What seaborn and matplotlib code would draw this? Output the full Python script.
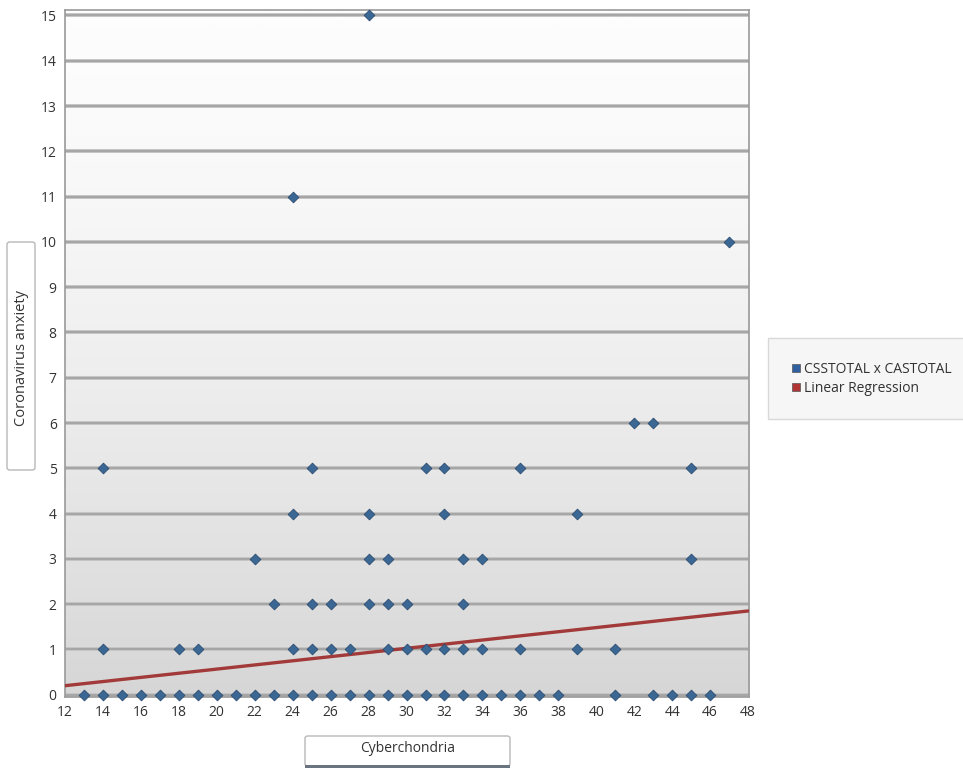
import numpy as np
import pandas as pd
import seaborn as sns
from matplotlib import pyplot as plt
from matplotlib.patches import FancyBboxPatch, Rectangle
from matplotlib.lines import Line2D

# CSSTOTAL (x) values found at each CASTOTAL (y) level
cas_0 = [13, 14, 15, 16, 17, 18, 19, 20, 21, 22, 23, 24, 25, 26, 27, 28, 29, 30,
         31, 32, 33, 34, 35, 36, 37, 38, 41, 43, 44, 45, 46]
cas_1 = [14, 18, 19, 24, 25, 26, 27, 29, 30, 31, 32, 33, 34, 36, 39, 41]
cas_2 = [23, 25, 26, 28, 29, 30, 33]
cas_3 = [22, 28, 29, 33, 34, 45]
cas_4 = [24, 28, 32, 39]
cas_5 = [14, 25, 31, 32, 36, 45]
cas_6 = [42, 43]
cas_10 = [47]
cas_11 = [24]
cas_15 = [28]

# linear regression line end points
reg_x = [12, 48]
reg_y = [0.2, 1.85]

x_ticks = [12, 14, 16, 18, 20, 22, 24, 26, 28, 30, 32, 34, 36, 38, 40, 42, 44, 46, 48]
y_ticks = [0, 1, 2, 3, 4, 5, 6, 7, 8, 9, 10, 11, 12, 13, 14, 15]

levels = [(0, cas_0), (1, cas_1), (2, cas_2), (3, cas_3), (4, cas_4), (5, cas_5),
          (6, cas_6), (10, cas_10), (11, cas_11), (15, cas_15)]
df = pd.DataFrame([(x, y) for y, xs in levels for x in xs], columns=['CSSTOTAL', 'CASTOTAL'])
reg = pd.DataFrame({'x': reg_x, 'y': reg_y})

sns.set_style('white')
plt.rcParams['font.family'] = ['Open Sans', 'DejaVu Sans']

fig = plt.figure(figsize=(9.63, 7.69), dpi=100)
ax = fig.add_axes([0.0675, 0.0936, 0.7103, 0.8934])

# gradient background
grad = np.linspace(0, 1, 256) ** 1.5
grad = np.vstack([grad, grad]).T
ax.imshow(grad, extent=[12, 48.05, -0.05, 15.12], aspect='auto', origin='upper',
          cmap=sns.blend_palette(['#fdfdfd', '#d6d6d6'], as_cmap=True), zorder=0)

for yv in y_ticks:
    ax.axhline(yv, color='#c4c4c4', lw=2.8, zorder=1)
    ax.axhline(yv, color='#a0a0a0', lw=1.2, zorder=1)

sns.lineplot(data=reg, x='x', y='y', ax=ax, color='#a33a3a', lw=2.4, zorder=3)
sns.scatterplot(data=df, x='CSSTOTAL', y='CASTOTAL', ax=ax, marker='D', s=30,
                color='#3b6794', edgecolor='#2b4d70', linewidth=0.6, zorder=4, clip_on=False)

ax.set_xlim(12, 48.05)
ax.set_ylim(-0.05, 15.12)
ax.set_xticks(x_ticks)
ax.set_yticks(y_ticks)
ax.tick_params(axis='both', direction='out', length=4, width=1, color='#555555',
               labelsize=10, labelcolor='#333333', pad=2)
ax.set_xlabel('')
ax.set_ylabel('')
for side in ['left', 'right', 'top', 'bottom']:
    ax.spines[side].set_color('#9a9a9a')
    ax.spines[side].set_linewidth(1.2)

# axis title boxes
W, H = 963, 769
ybox = FancyBboxPatch((7 / W, 1 - 470 / H), 28 / W, 228 / H, transform=fig.transFigure,
                      boxstyle='round,pad=0,rounding_size=0.003', fc='white', ec='#b8b8b8',
                      lw=1, zorder=-1)
fig.patches.append(ybox)
fig.text(21.5 / W, 1 - 358 / H, 'Coronavirus anxiety', rotation=90, ha='center', va='center',
         fontsize=10.5, color='#333333')

xbox = FancyBboxPatch((305 / W, 1 - 766 / H), 205 / W, 30 / H, transform=fig.transFigure,
                      boxstyle='round,pad=0,rounding_size=0.003', fc='white', ec='#b8b8b8',
                      lw=1, zorder=-1)
fig.patches.append(xbox)
fig.patches.append(Rectangle((305 / W, 1 - 768 / H), 205 / W, 3 / H, transform=fig.transFigure,
                             fc='#6a7480', ec='none', zorder=-1))
fig.text(408 / W, 1 - 749 / H, 'Cyberchondria', ha='center', va='center',
         fontsize=10, color='#333333')

# legend
handles = [Line2D([], [], ls='none', marker='s', ms=6, mfc='#2f5f9f', mec='#555555', mew=0.5),
           Line2D([], [], ls='none', marker='s', ms=6, mfc='#b03434', mec='#555555', mew=0.5)]
leg = fig.legend(handles, ['CSSTOTAL x CASTOTAL', 'Linear Regression'],
                 loc='upper left', bbox_to_anchor=(768 / W, 1 - 338 / H),
                 frameon=True, fancybox=False, fontsize=10, handlelength=0.6,
                 handletextpad=0.3, borderpad=1.7, labelspacing=0.3, borderaxespad=0)
leg.get_frame().set_edgecolor('#d0d0d0')
leg.get_frame().set_facecolor('#f4f4f4')
for t in leg.get_texts():
    t.set_color('#333333')

fig.savefig('out.png', dpi=100)
